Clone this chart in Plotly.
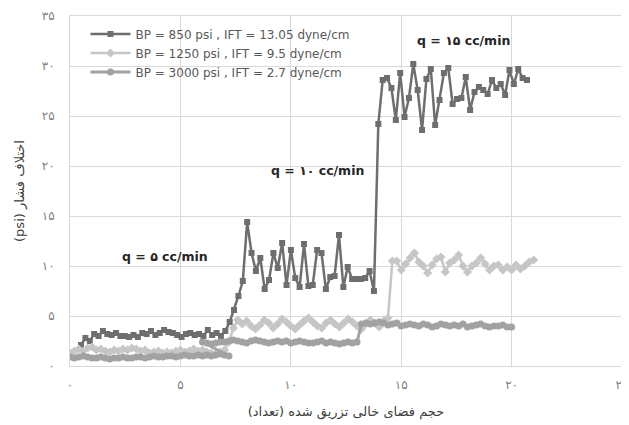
import plotly.graph_objects as go

# ---------------- data ----------------
series_names = [
    "BP = 850 psi , IFT = 13.05 dyne/cm",
    "BP = 1250 psi , IFT = 9.5 dyne/cm",
    "BP = 3000 psi , IFT = 2.7 dyne/cm",
]

# BP = 850 psi
s1_x_start = 0.5
s1_x_step = 0.198
s1_y = [
    2.1, 2.8, 2.5, 3.2, 3.0, 3.5, 3.2, 3.1, 3.3, 3.0, 3.0, 2.9, 3.1, 2.9, 3.3, 3.2, 3.5,
    3.1, 3.3, 3.6, 3.4, 3.3, 3.1, 2.9, 3.2, 3.3, 3.1, 3.2, 3.0, 3.6, 3.1, 3.3, 3.0, 3.5,
    4.4, 5.6, 7.0, 8.5, 14.4,
    11.3, 9.5, 10.8, 7.7, 8.6, 11.3, 9.8, 12.3, 8.1, 11.6, 8.8, 7.9, 12.2, 8.0, 8.1,
    11.6, 11.3, 7.7, 8.9, 9.0, 13.1, 7.9, 9.9, 8.7, 8.7, 8.7, 8.8, 9.5, 7.5,
    24.2, 28.6, 28.8, 27.8, 24.6, 29.3, 24.9, 26.8, 30.2, 27.6, 23.6, 28.7, 29.7, 24.1,
    26.6, 29.3, 29.8, 26.2, 26.7, 26.8, 28.9, 25.6, 27.4, 27.9, 27.6, 27.2, 28.6, 27.8,
    28.2, 27.1, 29.6, 28.2, 29.7, 28.8, 28.6,
]

# BP = 1250 psi
s2_x_start = 0.0
s2_x_step = 0.2
s2_y = [
    1.3, 1.5, 1.7, 1.5, 1.8, 1.9, 1.6, 1.7, 1.5, 1.4, 1.6, 1.5, 1.7, 1.6, 1.8, 1.7, 1.5,
    1.6, 1.3, 1.4, 1.5, 1.3, 1.4, 1.3, 1.5, 1.6, 1.4, 1.5, 1.7, 1.5, 1.6, 1.4, 1.3, 1.2,
    1.4, 1.6,
    2.4, 3.8, 4.6,
    4.2, 4.5, 4.0, 3.7, 4.1, 4.6, 4.3, 3.8, 4.2, 4.7, 4.4, 4.0, 3.7, 4.1, 4.5, 4.8, 4.4,
    4.0, 3.8, 4.3, 4.6, 4.2, 3.9, 4.3, 4.7, 4.4, 4.0, 3.7, 4.2, 4.6, 4.3, 3.9, 4.5, 4.8,
    10.5, 10.5, 9.6, 10.2, 10.8, 11.3, 10.4, 10.0, 9.3, 10.1, 10.7, 10.9, 9.4, 10.3,
    10.6, 11.1, 10.0, 9.4, 10.0, 10.3, 10.8, 10.2, 9.6, 10.0, 10.1, 9.6, 9.9, 9.6, 10.1,
    9.7, 10.0, 10.4, 10.6,
]

# BP = 3000 psi (two recorded segments)
s3_seg_starts = [0.0, 6.0]
s3_x_step = 0.2
s3_y_seg1 = [
    0.9, 0.8, 0.9, 1.0, 0.9, 0.8, 0.8, 0.9, 0.8, 0.7, 0.8, 0.8, 0.9, 0.8, 0.8, 0.9, 0.9,
    0.8, 0.9, 1.0, 0.9, 0.9, 1.0, 1.0, 0.9, 1.0, 1.1, 1.0, 1.0, 1.1, 1.0, 1.1, 1.0, 1.1,
    1.2, 1.1, 1.0,
]
s3_y_seg2 = [
    2.4, 2.3, 2.2, 2.3, 2.4, 2.4, 2.5, 2.6, 2.5, 2.4, 2.3, 2.5, 2.6, 2.5, 2.4, 2.3, 2.4,
    2.5, 2.4, 2.5, 2.3, 2.4, 2.5, 2.4, 2.3, 2.3, 2.4, 2.5, 2.3, 2.4, 2.3, 2.2, 2.3, 2.4,
    2.3, 2.4,
    4.2, 4.3, 4.2, 4.3, 4.4, 4.3, 4.1, 4.2, 4.3, 4.0, 4.1, 4.2, 4.1, 4.0, 4.2, 4.1, 3.9,
    4.0, 4.2, 4.1, 4.0, 4.1, 4.0, 4.2, 3.9, 4.0, 4.1, 4.2, 4.0, 3.9, 4.0, 4.0, 4.1, 3.9,
    3.9,
]

x_tick_vals = [0, 5, 10, 15, 20, 25]
x_tick_text = ["۰", "۵", "۱۰", "۱۵", "۲۰", "۲۵"]
y_tick_vals = [0, 5, 10, 15, 20, 25, 30, 35]
y_tick_text = ["۰", "۵", "۱۰", "۱۵", "۲۰", "۲۵", "۳۰", "۳۵"]

annotation_texts = ["q = ۵ cc/min", "q = ۱۰ cc/min", "q = ۱۵ cc/min"]
annotation_x = [4.3, 11.2, 17.8]
annotation_y = [11.0, 19.6, 32.6]

x_title = "حجم فضای خالی تزریق شده (تعداد)"
y_title = "اختلاف فشار (psi)"

RLE, PDF = "\u202b", "\u202c"   # right-to-left embedding for Persian titles

# ---------------- figure ----------------
s1_x = [s1_x_start + s1_x_step * i for i in range(len(s1_y))]
s2_x = [s2_x_start + s2_x_step * i for i in range(len(s2_y))]
s3_x = [s3_seg_starts[0] + s3_x_step * i for i in range(len(s3_y_seg1))] + \
       [s3_seg_starts[1] + s3_x_step * i for i in range(len(s3_y_seg2))]
s3_y = s3_y_seg1 + s3_y_seg2

fig = go.Figure()
fig.add_trace(go.Scatter(
    x=s1_x, y=s1_y, name=series_names[0], mode="lines+markers",
    line=dict(color="#6e6e6e", width=2.5),
    marker=dict(symbol="square", size=6, color="#6e6e6e"),
))
fig.add_trace(go.Scatter(
    x=s2_x, y=s2_y, name=series_names[1], mode="lines+markers",
    line=dict(color="#c6c6c6", width=2.5),
    marker=dict(symbol="diamond", size=7, color="#c6c6c6"),
))
fig.add_trace(go.Scatter(
    x=s3_x, y=s3_y, name=series_names[2], mode="lines+markers",
    line=dict(color="#a2a2a2", width=3),
    marker=dict(symbol="circle", size=7, color="#a2a2a2"),
))

for t, ax, ay in zip(annotation_texts, annotation_x, annotation_y):
    fig.add_annotation(x=ax, y=ay, text="<b>" + t + "</b>", showarrow=False,
                       font=dict(size=12.5, color="#262626", family="DejaVu Sans"))

fig.update_layout(
    width=621, height=417,
    margin=dict(l=62, r=7, t=8, b=59),
    paper_bgcolor="white", plot_bgcolor="white",
    font=dict(family="DejaVu Sans", color="#595959", size=11),
    showlegend=True,
    legend=dict(x=0.028, y=0.99, xanchor="left", yanchor="top",
                bgcolor="rgba(255,255,255,0)", font=dict(size=12, color="#595959"),
                tracegroupgap=0, itemwidth=40),
)
fig.update_xaxes(
    range=[0, 25], tickvals=x_tick_vals, ticktext=x_tick_text, automargin=False,
    showgrid=True, gridcolor="#d9d9d9", gridwidth=1,
    showline=True, linecolor="#d9d9d9", mirror=True, zeroline=False,
    ticks="", ticklabelstandoff=8, tickfont=dict(size=12, color="#7f7f7f"),
    title=dict(text=RLE + x_title + PDF, font=dict(size=13, color="#404040"), standoff=15),
)
fig.update_yaxes(
    range=[0, 35], tickvals=y_tick_vals, ticktext=y_tick_text, automargin=False,
    showgrid=True, gridcolor="#d9d9d9", gridwidth=1,
    showline=True, linecolor="#d9d9d9", mirror=True, zeroline=False,
    ticks="", ticklabelstandoff=12, tickfont=dict(size=12, color="#7f7f7f"),
    title=dict(text=RLE + y_title + PDF, font=dict(size=13, color="#404040"), standoff=14),
)

fig.write_html("out.html")
